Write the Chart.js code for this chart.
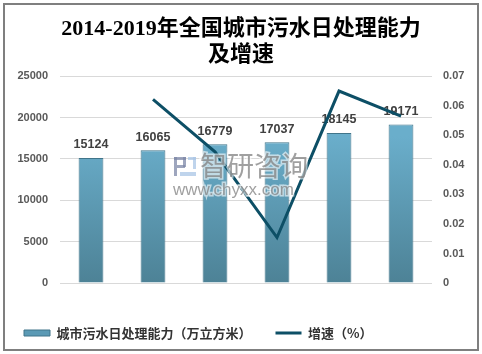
<!DOCTYPE html>
<html>
<head>
<meta charset="utf-8">
<script src="https://cdn.jsdelivr.net/npm/chart.js@4"></script>
<style>
  html, body { margin: 0; padding: 0; background: #ffffff; }
  canvas { display: block; }
</style>
</head>
<body>
<canvas id="c" width="482" height="354"></canvas>
<script>
// ---- data ----
const years = ['2014', '2015', '2016', '2017', '2018', '2019'];
const capacity = [15124, 16065, 16779, 17037, 18145, 19171];
const growth = [null, 0.0622, 0.0444, 0.0154, 0.065, 0.0565];
const leftTicksMax = 25000;
const rightTicksMax = 0.07;
const titleLines = ['2014-2019年全国城市污水日处理能力', '及增速'];
const barLabel = '城市污水日处理能力（万立方米）';
const lineLabel = '增速（%）';

const LINE_COLOR = '#0d4f66';
const BAR_BORDER = '#41758a';

Chart.defaults.font.family = '"Liberation Sans", "Noto Sans CJK SC", sans-serif';

function barGradient(ctx) {
  const chart = ctx.chart;
  const area = chart.chartArea;
  if (!area) return '#5b9ab5';
  const g = chart.ctx.createLinearGradient(0, area.top + 60, 0, area.bottom);
  g.addColorStop(0, '#6aaecb');
  g.addColorStop(1, '#4d8296');
  return g;
}

const barLabelsPlugin = {
  id: 'barLabels',
  afterDatasetDraw(chart, args) {
    if (args.index !== 0) return;
    const ctx = chart.ctx;
    ctx.save();
    ctx.font = 'bold 12.5px "Liberation Sans", sans-serif';
    ctx.fillStyle = '#404040';
    ctx.textAlign = 'center';
    ctx.textBaseline = 'middle';
    args.meta.data.forEach((el, i) => {
      ctx.fillText(String(capacity[i]), el.x, el.y - 13);
    });
    ctx.restore();
  }
};

const watermarkPlugin = {
  id: 'watermark',
  afterDatasetsDraw(chart) {
    const ctx = chart.ctx;
    ctx.save();
    ctx.globalAlpha = 0.75;
    // logo
    ctx.fillStyle = '#7d88a8';
    ctx.fillRect(174, 157, 12, 3);
    ctx.fillRect(174, 157, 3, 19);
    ctx.fillRect(183, 157, 3, 10);
    ctx.fillRect(177, 165, 8, 3);
    ctx.fillStyle = '#a9c6e6';
    ctx.fillRect(188, 157, 8, 3);
    ctx.fillRect(193, 157, 3, 12);
    ctx.fillRect(180, 172, 16, 4);
    // text
    ctx.textAlign = 'left';
    ctx.textBaseline = 'middle';
    ctx.font = '27px "Noto Sans CJK SC", sans-serif';
    ctx.lineWidth = 3;
    ctx.strokeStyle = 'rgba(255,255,255,0.8)';
    ctx.strokeText('智研咨询', 200, 166);
    ctx.fillStyle = '#808080';
    ctx.fillText('智研咨询', 200, 166);
    ctx.font = '17px "Liberation Sans", sans-serif';
    ctx.strokeText('www.chyxx.com', 173, 190);
    ctx.fillText('www.chyxx.com', 173, 190);
    ctx.restore();
  }
};

const borderPlugin = {
  id: 'outerBorder',
  afterDraw(chart) {
    const ctx = chart.ctx;
    ctx.save();
    ctx.strokeStyle = '#7f7f7f';
    ctx.lineWidth = 2;
    ctx.strokeRect(4, 4, 474, 346);
    ctx.restore();
  }
};

new Chart(document.getElementById('c'), {
  data: {
    labels: years,
    datasets: [
      {
        type: 'bar',
        label: barLabel,
        data: capacity,
        yAxisID: 'y',
        backgroundColor: barGradient,
        borderColor: BAR_BORDER,
        borderWidth: 1,
        barPercentage: 0.4,
        categoryPercentage: 1,
        order: 2
      },
      {
        type: 'line',
        label: lineLabel,
        data: growth,
        yAxisID: 'y1',
        borderColor: LINE_COLOR,
        backgroundColor: LINE_COLOR,
        borderWidth: 3,
        pointRadius: 0,
        tension: 0,
        borderJoinStyle: 'miter',
        spanGaps: false,
        order: 1
      }
    ]
  },
  options: {
    responsive: false,
    animation: false,
    devicePixelRatio: 1,
    layout: { padding: { left: 0, right: 0, top: 0, bottom: 4.5 } },
    plugins: {
      tooltip: { enabled: false },
      title: {
        display: true,
        text: titleLines,
        color: '#000000',
        font: { family: '"Liberation Serif", "Noto Sans CJK SC", serif', size: 22, weight: 'bold', lineHeight: 1.2 },
        padding: { top: 16, bottom: 7.5 }
      },
      legend: {
        display: true,
        position: 'bottom',
        align: 'start',
        labels: {
          usePointStyle: true,
          pointStyleWidth: 26,
          boxHeight: 6,
          padding: 24,
          color: '#333333',
          font: { family: '"Noto Sans CJK SC", sans-serif', size: 13, weight: 'bold' },
          generateLabels() {
            return [
              { text: barLabel, fillStyle: '#5b9ab5', strokeStyle: BAR_BORDER, lineWidth: 1, pointStyle: 'rect', datasetIndex: 0, hidden: false, fontColor: '#333333' },
              { text: lineLabel, fillStyle: LINE_COLOR, strokeStyle: LINE_COLOR, lineWidth: 3, pointStyle: 'line', datasetIndex: 1, hidden: false, fontColor: '#333333' }
            ];
          }
        }
      }
    },
    scales: {
      x: {
        grid: { display: false },
        border: { display: false },
        ticks: { color: '#404040', font: { size: 12.5, weight: 'bold' }, padding: 11 },
        afterFit(scale) { scale.height = 19.5; }
      },
      y: {
        position: 'left',
        min: 0,
        max: leftTicksMax,
        grid: { color: '#d9d9d9', drawTicks: false },
        border: { display: false },
        ticks: {
          stepSize: 5000,
          color: '#595959',
          font: { size: 11, weight: 'bold' },
          padding: 12,
          callback: v => String(v)
        },
        afterFit(scale) { scale.width = 60; }
      },
      y1: {
        position: 'right',
        min: 0,
        max: rightTicksMax,
        grid: { display: false, drawTicks: false },
        border: { display: false },
        ticks: {
          stepSize: 0.01,
          color: '#595959',
          font: { size: 11, weight: 'bold' },
          padding: 11,
          callback: v => (v === 0 ? '0' : Number(v).toFixed(2))
        },
        afterFit(scale) { scale.width = 50; }
      }
    }
  },
  plugins: [barLabelsPlugin, watermarkPlugin, borderPlugin]
});
</script>
</body>
</html>
